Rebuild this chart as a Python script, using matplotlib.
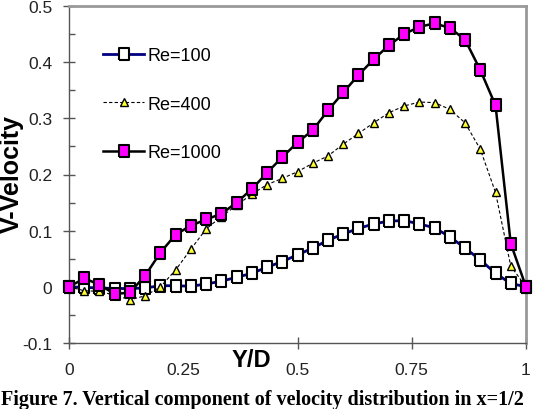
import numpy as np
import matplotlib
matplotlib.use("Agg")
import matplotlib.pyplot as plt

# ---- data ----
y_over_d = [i / 30 for i in range(31)]

v_re100 = [0.000, -0.001, -0.002, -0.003, -0.003, -0.002, 0.002, 0.002, 0.001, 0.005,
           0.010, 0.017, 0.024, 0.035, 0.045, 0.057, 0.069, 0.083, 0.094, 0.104,
           0.112, 0.117, 0.118, 0.112, 0.105, 0.089, 0.069, 0.048, 0.024, 0.006, 0.000]

v_re400 = [0.000, -0.007, -0.008, -0.015, -0.023, -0.016, 0.000, 0.030, 0.067, 0.103,
           0.125, 0.145, 0.165, 0.182, 0.193, 0.205, 0.220, 0.233, 0.254, 0.273,
           0.292, 0.310, 0.322, 0.329, 0.328, 0.316, 0.292, 0.245, 0.168, 0.037, 0.000]

v_re1000 = [0.000, 0.015, 0.004, -0.013, -0.010, 0.020, 0.061, 0.093, 0.109, 0.120,
            0.130, 0.150, 0.174, 0.203, 0.231, 0.257, 0.279, 0.314, 0.346, 0.377,
            0.405, 0.430, 0.450, 0.463, 0.469, 0.461, 0.440, 0.386, 0.323, 0.077, 0.000]

labels = ["Re=100", "Re=400", "Re=1000"]
xticks = [0, 0.25, 0.5, 0.75, 1]
xticklabels = ["0", "0.25", "0.5", "0.75", "1"]
yticks = [-0.1, 0, 0.1, 0.2, 0.3, 0.4, 0.5]
yticklabels = ["-0.1", "0", "0.1", "0.2", "0.3", "0.4", "0.5"]

SANS = ["Liberation Sans", "DejaVu Sans"]

fig = plt.figure(figsize=(5.39, 4.10), dpi=100)
ax = fig.add_axes([69 / 539, 66 / 410, 457 / 539, 337 / 410])

rect_w = [(-0.38, -0.5), (0.38, -0.5), (0.38, 0.5), (-0.38, 0.5), (-0.38, -0.5)]
rect_w2 = [(-0.42, -0.5), (0.42, -0.5), (0.42, 0.5), (-0.42, 0.5), (-0.42, -0.5)]

l1, = ax.plot(y_over_d, v_re100, color="#000080", lw=2.0, marker=rect_w2, ms=8.6,
              mfc="white", mec="black", mew=1.5, label=labels[0], zorder=3, clip_on=False)
l2, = ax.plot(y_over_d, v_re400, color="black", lw=0.8, ls=(0, (3, 2)), marker="^", ms=6,
              mfc="#ffff33", mec="black", mew=1.0, label=labels[1], zorder=4, clip_on=False)
l3, = ax.plot(y_over_d, v_re1000, color="black", lw=1.8, marker=rect_w, ms=9.2,
              mfc="#ff00ff", mec="black", mew=1.5, label=labels[2], zorder=5, clip_on=False)

ax.set_xlim(0, 1)
ax.set_ylim(-0.1, 0.5)
ax.set_xticks(xticks)
ax.set_xticklabels(xticklabels)
ax.set_yticks(yticks)
ax.set_yticklabels(yticklabels)
ax.set_yticks(np.arange(-0.05, 0.5, 0.1), minor=True)
ax.xaxis.get_major_ticks()[1].tick1line.set_visible(False)

for lab in ax.get_xticklabels() + ax.get_yticklabels():
    lab.set_family(SANS)
    lab.set_fontsize(12.5)
    lab.set_color("#222222")

ax.tick_params(axis="both", which="major", direction="inout", length=8, width=1,
               color="#555555")
ax.tick_params(axis="y", which="major", pad=8)
ax.tick_params(axis="x", which="major", pad=10)
ax.tick_params(axis="y", which="minor", direction="in", length=4, width=1, color="#555555")

for s in ["left", "bottom"]:
    ax.spines[s].set_color("#555555")
    ax.spines[s].set_linewidth(1.0)
for s in ["top", "right"]:
    ax.spines[s].set_color("#999999")
    ax.spines[s].set_linewidth(2.0)

ax.text(0.398, -0.05, "Y/D", transform=ax.transAxes, ha="center", va="center",
        fontsize=17, fontweight="bold", family=SANS)
fig.text(12 / 539, 1 - 174 / 410, "V-Velocity", rotation=90, ha="center", va="center",
         fontsize=18, fontweight="bold", family=SANS)

leg = ax.legend(handles=[l1, l2, l3], loc="center left", bbox_to_anchor=(0.074, 0.709),
                frameon=False, borderpad=0, borderaxespad=0, handlelength=2.3,
                handletextpad=0.15, labelspacing=1.75,
                prop={"family": SANS, "size": 13})

fig.text(1 / 539, 5 / 410, "Figure 7. Vertical component of velocity distribution in x=1/2",
         ha="left", va="baseline", fontsize=14.5, fontweight="bold",
         family=["Liberation Serif", "DejaVu Serif"])

fig.savefig("out.png", dpi=100)
